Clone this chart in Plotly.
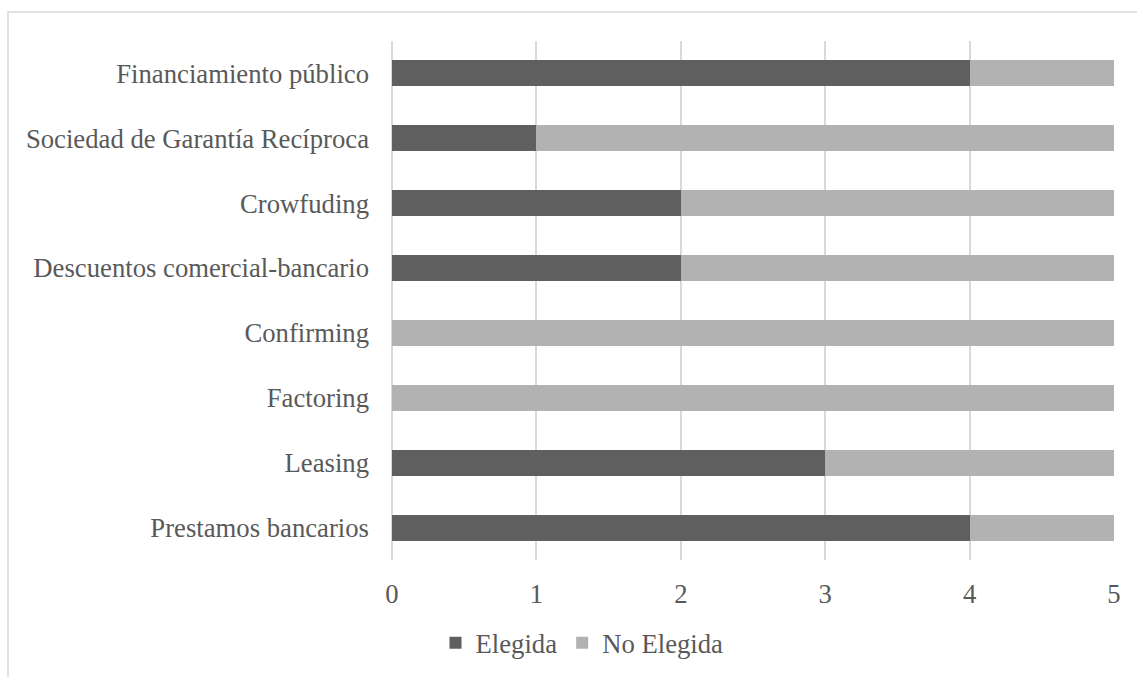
import plotly.graph_objects as go

categorias = [
    "Prestamos bancarios",
    "Leasing",
    "Factoring",
    "Confirming",
    "Descuentos comercial-bancario",
    "Crowfuding",
    "Sociedad de Garantía Recíproca",
    "Financiamiento público",
]
elegida = [4, 3, 0, 0, 2, 2, 1, 4]
no_elegida = [1, 2, 5, 5, 3, 3, 4, 1]
x_ticks = [0, 1, 2, 3, 4, 5]

FONT = "Liberation Serif, Times New Roman, serif"
TEXT = "#595959"
GRID = "#d9d9d9"
FS = 26.7

fig = go.Figure()
fig.add_trace(go.Bar(
    y=categorias, x=elegida, name="Elegida", orientation="h",
    marker=dict(color="#5f5f5f", line=dict(width=0)),
))
fig.add_trace(go.Bar(
    y=categorias, x=no_elegida, name="No Elegida", orientation="h",
    marker=dict(color="#b2b2b2", line=dict(width=0)),
))

W, H = 1137, 677
L, R, T, B = 392, 23, 41, 117

fig.update_layout(
    width=W, height=H,
    barmode="stack", bargap=0.6,
    paper_bgcolor="white", plot_bgcolor="white",
    margin=dict(l=L, r=R, t=T, b=B, autoexpand=False),
    font=dict(family=FONT, size=FS, color=TEXT),
    showlegend=True,
    legend=dict(
        orientation="h", x=(582 - L) / (W - L - R), xanchor="center",
        y=-(643 - (H - B)) / (H - T - B), yanchor="middle",
        font=dict(family=FONT, size=FS, color=TEXT),
        itemwidth=30, traceorder="normal", itemsizing="constant",
    ),
    xaxis=dict(
        range=[0, 5], tickvals=x_ticks, showgrid=True, gridcolor=GRID, gridwidth=2,
        zeroline=True, zerolinecolor=GRID, zerolinewidth=2, showline=False,
        ticks="", ticklabelstandoff=15, fixedrange=True,
    ),
    yaxis=dict(
        showgrid=False, zeroline=False, showline=False, ticks="",
        ticklabelstandoff=22, categoryorder="array", categoryarray=categorias,
        fixedrange=True,
    ),
    shapes=[dict(
        type="rect", xref="paper", yref="paper",
        x0=(8 - L) / (W - L - R), x1=(W + 20 - L) / (W - L - R),
        y0=-(H + 20 - (H - B)) / (H - T - B), y1=1 + (T - 12) / (H - T - B),
        line=dict(color=GRID, width=1.5), fillcolor="rgba(0,0,0,0)", layer="below",
    )],
)

fig.write_html("out.html")
